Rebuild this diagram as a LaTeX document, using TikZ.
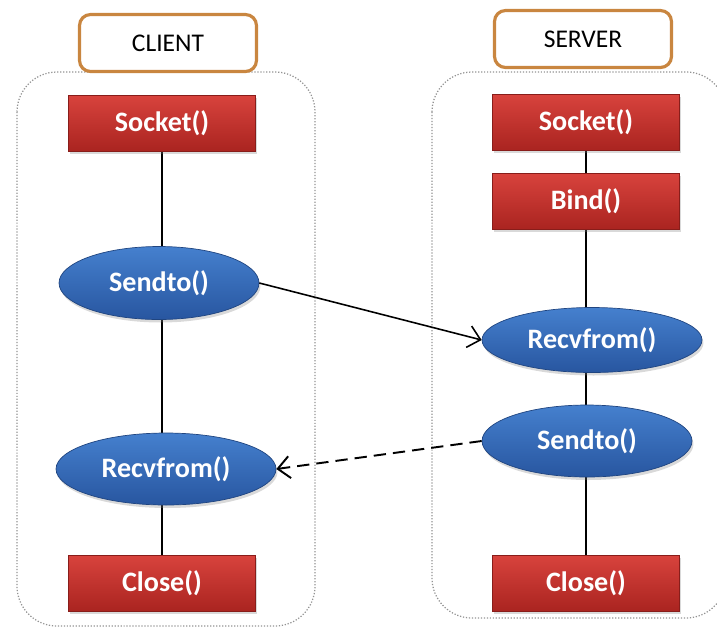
\documentclass[tikz,border=0pt]{standalone}
\usepackage{fontspec}
\setmainfont{Carlito}
\usepackage{tikz}
\usetikzlibrary{shapes.geometric,shadows,arrows.meta,backgrounds}

\definecolor{redtop}{HTML}{D8433D}
\definecolor{redbot}{HTML}{AA2420}
\definecolor{blutop}{HTML}{4580CE}
\definecolor{blubot}{HTML}{2856A0}
\definecolor{headorange}{HTML}{C98640}

\begin{document}
\begin{tikzpicture}[x=0.02cm,y=-0.02cm,
  call/.style={rectangle, draw=redbot!80!black, top color=redtop, bottom color=redbot,
    text=white, font=\fontsize{16}{18}\selectfont\bfseries, inner sep=0pt,
    minimum width=3.74cm, minimum height=1.12cm,
    drop shadow={opacity=0.3, shadow xshift=0.03cm, shadow yshift=-0.06cm}},
  oval/.style={ellipse, draw=blubot!80!black, top color=blutop, bottom color=blubot,
    text=white, font=\fontsize{16}{18}\selectfont\bfseries, inner sep=0pt,
    drop shadow={opacity=0.3, shadow xshift=0.03cm, shadow yshift=-0.06cm}},
  head/.style={rectangle, rounded corners=0.22cm, draw=headorange, line width=1.8pt,
    fill=white, font=\fontsize{14.5}{16}\selectfont, minimum width=3.54cm, minimum height=1.14cm},
  box/.style={gray!85, densely dotted, line width=0.7pt, rounded corners=0.8cm},
  msg/.style={-{Straight Barb[length=2.4mm,width=4.4mm]}, line width=0.9pt}]

\useasboundingbox (0,0) rectangle (717,627);
\clip (0,0) rectangle (717,627);

% the two sides
\draw[box] (17,72) rectangle (315,626);
\draw[box] (432,72) rectangle (726,618);

\node[head] (chead) at (168,43) {CLIENT};
\node[head] (shead) at (583,39) {SERVER};

% client calls
\node[call] (csock) at (162,123) {Socket()};
\node[oval, minimum width=4.0cm, minimum height=1.46cm] (csend) at (159,283) {Sendto()};
\node[oval, minimum width=4.4cm, minimum height=1.44cm] (crecv) at (166,469) {Recvfrom()};
\node[call] (cclose) at (162,583) {Close()};

% server calls
\node[call] (ssock) at (586,122) {Socket()};
\node[call] (sbind) at (586,201) {Bind()};
\node[oval, minimum width=4.4cm, minimum height=1.3cm] (srecv) at (592,340) {Recvfrom()};
\node[oval, minimum width=4.2cm, minimum height=1.44cm] (ssend) at (587,441) {Sendto()};
\node[call] (sclose) at (586,583) {Close()};

% call order, behind the shapes
\begin{pgfonlayer}{background}
\draw[line width=0.7pt] (csock) -- (cclose);
\draw[line width=0.7pt] (ssock) -- (sclose);
\end{pgfonlayer}

% messages
\draw[msg] (csend.east) -- (srecv.west);
\draw[msg, line width=1.1pt, dash pattern=on 7pt off 4pt] (ssend.west) -- (crecv.east);

\end{tikzpicture}
\end{document}
